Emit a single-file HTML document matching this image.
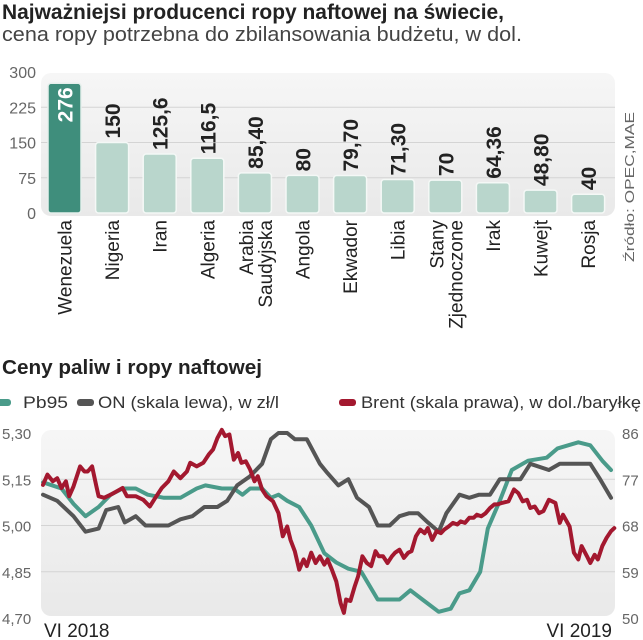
<!DOCTYPE html>
<html><head><meta charset="utf-8"><style>
html,body{margin:0;padding:0;background:#fff;}
svg{display:block;font-family:"Liberation Sans",sans-serif;}
</style></head><body>
<svg id="c" width="643" height="640" viewBox="0 0 643 640">
<defs>
<linearGradient id="bg" x1="0" y1="0" x2="0" y2="1"><stop offset="0" stop-color="#f6f6f6"/><stop offset="1" stop-color="#e9e9e9"/></linearGradient>
</defs>
<text x="2" y="19" font-size="21" font-weight="bold" fill="#222" textLength="502" lengthAdjust="spacingAndGlyphs">Najważniejsi producenci ropy naftowej na świecie,</text>
<text x="2" y="41" font-size="20" fill="#444" textLength="520" lengthAdjust="spacingAndGlyphs">cena ropy potrzebna do zbilansowania budżetu, w dol.</text>
<rect x="41" y="73" width="574" height="143" rx="10" fill="url(#bg)"/>
<g id="bars"></g>
<text transform="translate(634,262) rotate(-90)" font-size="13" fill="#666" textLength="150" lengthAdjust="spacingAndGlyphs">Źródło: OPEC,MAE</text>
<text x="2" y="374" font-size="20" font-weight="bold" fill="#222" textLength="260" lengthAdjust="spacingAndGlyphs">Ceny paliw i ropy naftowej</text>
<g>
<rect x="-6" y="399" width="17" height="7" rx="3" fill="#4a9b8a"/>
<text x="23" y="408" font-size="17" fill="#333" textLength="45" lengthAdjust="spacingAndGlyphs">Pb95</text>
<rect x="77" y="399" width="17" height="7" rx="3" fill="#555"/>
<text x="98" y="408" font-size="17" fill="#333" textLength="181" lengthAdjust="spacingAndGlyphs">ON (skala lewa), w zł/l</text>
<rect x="339" y="399" width="17" height="7" rx="3" fill="#a3182f"/>
<text x="361" y="408" font-size="17" fill="#333" textLength="280" lengthAdjust="spacingAndGlyphs">Brent (skala prawa), w dol./baryłkę</text>
</g>
<rect x="41" y="430" width="574" height="186" rx="10" fill="url(#bg)"/>
<g id="lines"></g>
<text x="44" y="637" font-size="19" fill="#222">VI 2018</text>
<text x="612" y="637" font-size="19" fill="#222" text-anchor="end">VI 2019</text>
</svg>
<script>
const countries=[["Wenezuela"],["Nigeria"],["Iran"],["Algeria"],["Arabia","Saudyjska"],["Angola"],["Ekwador"],["Libia"],["Stany","Zjednoczone"],["Irak"],["Kuwejt"],["Rosja"]];
const barValues=[276,150,125.6,116.5,85.4,80,79.7,71.3,70,64.36,48.8,40];
const barLabels=["276","150","125,6","116,5","85,40","80","79,70","71,30","70","64,36","48,80","40"];
const barTicks=[0,75,150,225,300];

const leftTicks=[4.70,4.85,5.00,5.15,5.30];
const leftTickLabels=["4,70","4,85","5,00","5,15","5,30"];
const rightTicks=[50,59,68,77,86];
const pbWeeks=[0,1.7,2.8,3.9,5.1,6.2,7.3,8.5,9.6,11.1,12.6,14.1,14.9,16.4,17.5,18.3,19.0,20.1,20.9,21.6,22.4,23.5,24.6,25.8,26.9,28.0,29.2,30.7,31.4,32.7,33.7,34.8,36.3,37.4,38.2,39.1,40.1,40.8,41.9,43.0,44.5,46.2,47.2,49.1,50.2,51.3,52.1];
const pbValues=[5.14,5.12,5.07,5.03,5.06,5.10,5.12,5.12,5.10,5.09,5.09,5.12,5.13,5.12,5.12,5.10,5.12,5.12,5.09,5.10,5.08,5.06,5.00,4.91,4.88,4.86,4.85,4.76,4.76,4.76,4.79,4.76,4.72,4.73,4.78,4.79,4.85,4.99,5.08,5.18,5.21,5.22,5.25,5.27,5.26,5.21,5.18];
const onWeeks=[0,1.3,2.8,3.9,5.1,5.8,6.9,7.5,8.5,9.4,11.5,12.6,13.7,14.8,16.0,16.9,17.8,19.0,20.1,20.9,21.6,22.4,23.1,24.2,25.4,26.1,27.1,28.0,28.8,29.9,30.7,31.8,32.7,33.6,34.4,35.3,36.3,37.0,38.2,39.1,40.0,41.0,41.9,42.9,43.8,44.7,46.4,47.4,50.2,51.1,52.1];
const onValues=[5.10,5.08,5.03,4.98,4.99,5.05,5.06,5.01,5.03,5.00,5.00,5.02,5.03,5.06,5.06,5.08,5.13,5.16,5.20,5.28,5.30,5.30,5.28,5.28,5.20,5.17,5.13,5.15,5.09,5.06,5.00,5.00,5.03,5.04,5.04,5.01,4.98,5.04,5.10,5.09,5.10,5.10,5.15,5.15,5.15,5.20,5.18,5.20,5.20,5.15,5.09];
const brentWeeks=[0,0.4,0.9,1.3,1.7,2.1,2.4,2.8,3.4,3.8,4.1,4.5,4.9,5.1,5.6,6.2,6.8,7.3,7.7,8.5,9.2,9.8,10.3,10.9,11.5,12.0,12.6,13.2,13.5,14.1,14.7,15.2,15.6,16.0,16.4,16.7,17.1,17.5,17.9,18.2,18.6,19.0,19.4,19.7,20.1,20.5,21.1,21.6,22.0,22.4,22.7,23.1,23.5,23.9,24.2,24.6,25.0,25.4,25.8,26.1,26.5,26.9,27.3,27.6,27.8,28.2,28.6,28.9,29.3,29.7,30.1,30.5,30.8,31.2,31.6,32.0,32.3,32.7,33.1,33.5,33.8,34.2,34.6,35.0,35.3,35.7,36.1,36.5,36.8,37.2,37.6,38.0,38.3,38.7,39.1,39.5,39.8,40.2,40.6,41.0,41.4,41.7,42.1,42.7,43.2,43.6,44.0,44.4,44.7,45.1,45.5,45.9,46.4,47.0,47.4,47.7,48.3,48.7,49.1,49.4,49.9,50.2,50.6,50.9,51.3,51.7,52.1,52.4];
const brentValues=[75.9,77.9,76.6,77.2,75.3,76.6,73.7,75.6,79.5,78.5,78.5,79.5,75.6,73.7,73.4,74.0,74.7,75.3,73.7,73.7,73.0,71.7,73.4,75.3,76.6,78.5,77.2,78.5,80.2,79.5,80.2,81.8,82.8,85.0,86.6,85.4,85.7,80.8,82.1,80.2,80.5,78.9,76.6,77.6,75.0,73.7,72.7,70.4,65.9,67.8,65.2,63.0,59.4,61.4,60.1,62.7,60.7,62.0,60.4,61.4,59.4,57.1,52.9,51.0,53.6,53.3,56.2,58.1,62.0,60.7,60.1,63.0,62.0,62.0,60.7,62.0,62.7,63.3,61.7,62.7,63.0,65.9,67.2,66.5,67.5,65.2,66.9,66.5,67.2,67.8,68.5,68.2,68.8,68.5,69.5,69.5,70.1,69.8,70.4,71.4,72.1,72.1,72.4,72.7,75.0,74.3,72.7,73.0,71.4,71.7,70.4,70.8,73.0,72.4,68.5,70.1,67.8,62.7,61.4,64.0,62.0,60.7,62.3,61.4,64.0,65.6,66.9,67.5];

const NS="http://www.w3.org/2000/svg";
function mk(tag,attrs,parent,text){const e=document.createElementNS(NS,tag);for(const k in attrs)e.setAttribute(k,attrs[k]);if(text!==undefined)e.textContent=text;parent.appendChild(e);return e;}

// bar chart
const bars=document.getElementById('bars');
const by=v=>213-v*(141/300);
const bx=i=>48+i*47.6;
const bw=33;
barTicks.forEach(t=>{
  if(t>0&&t<300){const l=mk('line',{x1:41,x2:615,y1:by(t),y2:by(t),stroke:'#d4d4d4','stroke-width':1},bars);
  
  }
  const tx=mk('text',{x:36,y:by(t)+6,'font-size':16,fill:'#666','text-anchor':'end'},bars,String(t));
  
  
});
barValues.forEach((v,i)=>{
  const x=bx(i),y=by(v);
  const r=mk('rect',{x:x,y:y,width:bw,height:213-y,rx:3,fill:i===0?'#3f8e7c':'#b9d6cc',stroke:i===0?'#e6efec':'#f4f8f6','stroke-width':1.5},bars);
  
  
  let lt;
  if(i===0){
    lt=mk('text',{transform:`translate(${x+bw/2+8},${y+4}) rotate(-90)`,'font-size':21,'font-weight':'bold',fill:'#fff','text-anchor':'end'},bars,barLabels[i]);
  }else{
    lt=mk('text',{transform:`translate(${x+bw/2+8},${y-4}) rotate(-90)`,'font-size':21,'font-weight':'bold',fill:'#222','text-anchor':'start'},bars,barLabels[i]);
  }
  
  
  const lines=countries[i];
  lines.forEach((s,j)=>{
    const off=lines.length===1?7:(j===0?-2:17);
    const ct=mk('text',{transform:`translate(${x+bw/2+off},220) rotate(-90)`,'font-size':19,fill:'#222','text-anchor':'end'},bars,s);
    
    
  });
});

// line chart
const g=document.getElementById('lines');
const ly=v=>433+(5.30-v)/0.60*185;
const ry=v=>433+(86-v)/36*185;
const lx=w=>43+w/52.1*568;
[5.15,5.00,4.85].forEach(t=>{
  const l=mk('line',{x1:41,x2:615,y1:ly(t),y2:ly(t),stroke:'#d4d4d4','stroke-width':1},g);
  
  
});
leftTicks.forEach((t,i)=>{
  const tx=mk('text',{x:2,y:ly(t)+6,'font-size':15,fill:'#666'},g,leftTickLabels[i]);
  
  
});
rightTicks.forEach(t=>{
  const tx=mk('text',{x:622,y:ry(t)+6,'font-size':15,fill:'#666'},g,String(t));
  
  
});
function path(xs,ys){return xs.map((x,i)=>(i?'L':'M')+x.toFixed(1)+' '+ys[i].toFixed(1)).join(' ');}
const pb=mk('path',{d:path(pbWeeks.map(lx),pbValues.map(ly)),fill:'none',stroke:'#4a9b8a','stroke-width':4,'stroke-linejoin':'round','stroke-linecap':'round'},g);


const on=mk('path',{d:path(onWeeks.map(lx),onValues.map(ly)),fill:'none',stroke:'#555','stroke-width':4,'stroke-linejoin':'round','stroke-linecap':'round'},g);


const br=mk('path',{d:path(brentWeeks.map(lx),brentValues.map(ry)),fill:'none',stroke:'#a3182f','stroke-width':4,'stroke-linejoin':'round','stroke-linecap':'round'},g);


</script>
</body></html>
